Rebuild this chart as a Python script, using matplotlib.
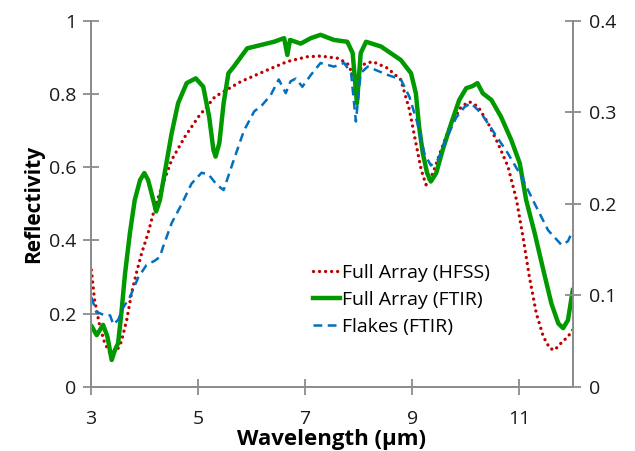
#!/usr/bin/env python3
# -*- coding: utf-8 -*-

import matplotlib
matplotlib.use("Agg")
import matplotlib.pyplot as plt

# Full Array (HFSS), left axis
hfss_x = [3.01, 3.07, 3.17, 3.26, 3.36, 3.48, 3.57, 3.67, 3.76, 3.85, 3.95, 4.07, 4.20,
          4.35, 4.51, 4.76, 5.01, 5.32, 5.80, 6.30, 6.67, 7.04, 7.29, 7.61, 7.79, 7.95,
          8.07, 8.26, 8.54, 8.79, 8.95, 9.07, 9.17, 9.26, 9.39, 9.54, 9.73, 9.92, 10.07,
          10.23, 10.42, 10.60, 10.79, 10.95, 11.07, 11.19, 11.32, 11.45, 11.57, 11.66,
          11.78, 11.91, 12.0]
hfss_y = [0.319, 0.237, 0.164, 0.119, 0.091, 0.096, 0.123, 0.182, 0.255, 0.310, 0.365,
          0.420, 0.492, 0.556, 0.620, 0.684, 0.738, 0.793, 0.834, 0.866, 0.889, 0.902,
          0.904, 0.898, 0.884, 0.839, 0.880, 0.889, 0.871, 0.839, 0.757, 0.666, 0.593,
          0.552, 0.584, 0.647, 0.720, 0.766, 0.779, 0.766, 0.720, 0.666, 0.602, 0.510,
          0.410, 0.300, 0.200, 0.137, 0.105, 0.100, 0.119, 0.137, 0.155]

# Full Array (FTIR), left axis
ftir_x = [3.02, 3.11, 3.23, 3.31, 3.39, 3.45, 3.51, 3.57, 3.64, 3.73, 3.82, 3.92, 4.00,
          4.07, 4.15, 4.22, 4.29, 4.39, 4.51, 4.63, 4.79, 4.96, 5.10, 5.21, 5.29, 5.33,
          5.40, 5.48, 5.57, 5.67, 5.92, 6.17, 6.42, 6.61, 6.67, 6.72, 6.92, 7.11, 7.29,
          7.54, 7.79, 7.89, 7.97, 8.04, 8.14, 8.42, 8.79, 8.98, 9.07, 9.13, 9.20, 9.28,
          9.35, 9.45, 9.57, 9.73, 9.88, 10.01, 10.13, 10.22, 10.32, 10.48, 10.66, 10.85,
          11.01, 11.13, 11.29, 11.45, 11.60, 11.73, 11.82, 11.91, 12.0]
ftir_y = [0.164, 0.141, 0.169, 0.137, 0.073, 0.100, 0.119, 0.200, 0.310, 0.420, 0.510,
          0.565, 0.584, 0.565, 0.520, 0.479, 0.510, 0.593, 0.693, 0.775, 0.830, 0.843,
          0.820, 0.738, 0.647, 0.629, 0.666, 0.775, 0.857, 0.875, 0.925, 0.934, 0.943,
          0.953, 0.907, 0.948, 0.938, 0.953, 0.962, 0.948, 0.943, 0.912, 0.775, 0.912,
          0.943, 0.930, 0.893, 0.857, 0.802, 0.711, 0.638, 0.584, 0.561, 0.584, 0.647,
          0.720, 0.784, 0.816, 0.822, 0.830, 0.802, 0.784, 0.738, 0.675, 0.611, 0.510,
          0.419, 0.319, 0.228, 0.173, 0.160, 0.182, 0.264]

# Flakes (FTIR), right axis
flakes_x = [3.01, 3.10, 3.26, 3.36, 3.42, 3.51, 3.60, 3.73, 3.89, 4.04, 4.20, 4.29, 4.35,
            4.51, 4.70, 4.88, 5.07, 5.20, 5.35, 5.48, 5.67, 5.86, 6.05, 6.20, 6.36, 6.51,
            6.64, 6.73, 6.83, 6.95, 7.11, 7.29, 7.54, 7.73, 7.86, 7.95, 8.04, 8.17, 8.54,
            8.79, 8.95, 9.10, 9.23, 9.35, 9.48, 9.63, 9.82, 9.98, 10.10, 10.29, 10.54,
            10.79, 11.04, 11.29, 11.54, 11.79, 11.91, 12.0]
flakes_y = [0.098, 0.082, 0.078, 0.078, 0.068, 0.073, 0.086, 0.098, 0.120, 0.133, 0.138,
            0.142, 0.153, 0.179, 0.200, 0.222, 0.234, 0.232, 0.221, 0.215, 0.248, 0.280,
            0.301, 0.308, 0.319, 0.336, 0.321, 0.334, 0.337, 0.328, 0.341, 0.354, 0.350,
            0.354, 0.343, 0.290, 0.343, 0.350, 0.341, 0.336, 0.317, 0.288, 0.255, 0.242,
            0.248, 0.270, 0.294, 0.306, 0.310, 0.299, 0.277, 0.255, 0.230, 0.200, 0.171,
            0.155, 0.159, 0.171]

left_ticks = [0, 0.2, 0.4, 0.6, 0.8, 1]
right_ticks = [0, 0.1, 0.2, 0.3, 0.4]
x_ticks = [3, 5, 7, 9, 11]

plt.rcParams["font.family"] = ["Open Sans", "DejaVu Sans"]

fig = plt.figure(figsize=(6.35, 4.51), dpi=100)
ax = fig.add_axes([0.143, 0.1426, 0.759, 0.811])
ax2 = ax.twinx()

l1, = ax.plot(hfss_x, hfss_y, color="#C00000", lw=2.4, linestyle=(0, (0.01, 1.8)),
              dash_capstyle="round", label="Full Array (HFSS)")
l2, = ax.plot(ftir_x, ftir_y, color="#009900", lw=3.2, solid_joinstyle="round",
              label="Full Array (FTIR)")
l3, = ax2.plot(flakes_x, flakes_y, color="#0070C0", lw=1.8, linestyle=(0, (3.5, 2.2)),
               label="Flakes (FTIR)")

ax.set_xlim(3, 12)
ax.set_ylim(0, 1)
ax2.set_ylim(0, 0.4)
ax.set_xticks(x_ticks)
ax.set_yticks(left_ticks)
ax.set_yticklabels([f"{v:g}" for v in left_ticks])
ax2.set_yticks(right_ticks)
ax2.set_yticklabels([f"{v:g}" for v in right_ticks])

for a in (ax, ax2):
    for s in a.spines.values():
        s.set_color("#8c8c8c")
        s.set_linewidth(1.3)
    a.spines["top"].set_visible(False)
    a.tick_params(direction="inout", length=11, width=1.3, color="#8c8c8c",
                  labelsize=14, labelcolor="#1a1a1a")
ax.tick_params(axis="x", pad=11)
ax.tick_params(axis="y", pad=5)
ax2.tick_params(axis="y", pad=6)

ax.set_xlabel("Wavelength (µm)", fontsize=16, fontweight="bold", labelpad=1)
ax.set_ylabel("Reflectivity", fontsize=15, fontweight="bold", labelpad=3)

ax.legend(handles=[l1, l2, l3], loc="center left", bbox_to_anchor=(0.461, 0.237),
          frameon=False, fontsize=14, handlelength=1.4, handletextpad=0.1,
          labelspacing=0.45, borderpad=0, borderaxespad=0)

fig.savefig("out.png", dpi=100)
plt.close(fig)
